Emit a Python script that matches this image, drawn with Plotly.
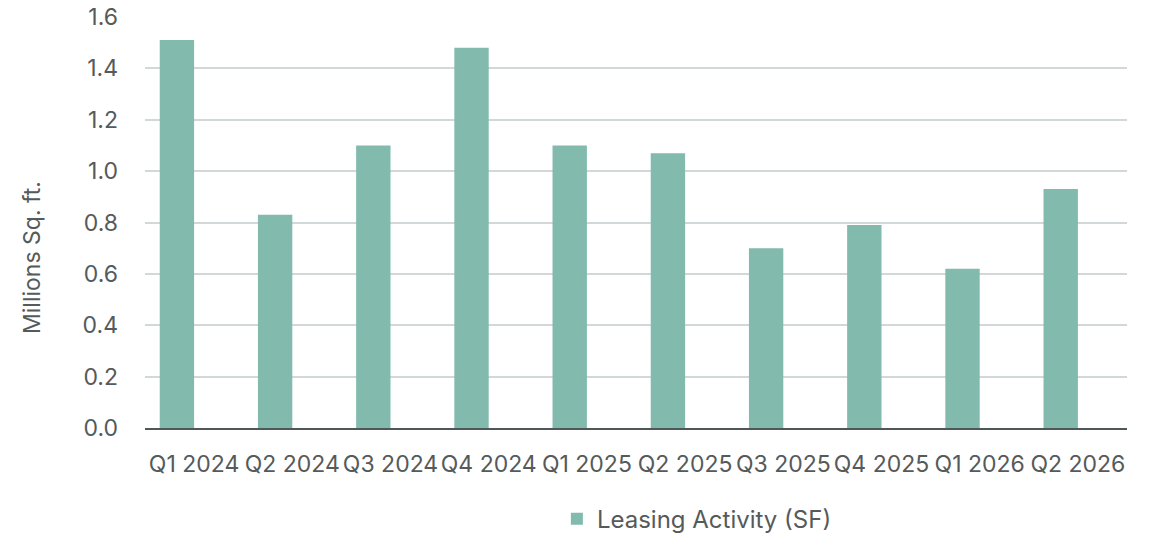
import plotly.graph_objects as go

categories = ["Q1 2024", "Q2 2024", "Q3 2024", "Q4 2024", "Q1 2025",
              "Q2 2025", "Q3 2025", "Q4 2025", "Q1 2026", "Q2 2026"]
leasing = [1.51, 0.83, 1.10, 1.48, 1.10, 1.07, 0.70, 0.79, 0.62, 0.93]
y_ticks = [0.0, 0.2, 0.4, 0.6, 0.8, 1.0, 1.2, 1.4, 1.6]
y_tick_text = ["0.0", "0.2", "0.4", "0.6", "0.8", "1.0", "1.2", "1.4", "1.6"]

FONT = "Inter, Open Sans, sans-serif"
TXT = "#555a5a"
FS = 23

fig = go.Figure()
fig.add_trace(go.Bar(
    x=categories, y=leasing, name="Leasing Activity (SF)",
    width=0.35, offset=-0.35,
    marker=dict(color="#82BAAD", line=dict(width=0)),
))

fig.update_layout(
    width=1150, height=534,
    margin=dict(l=145, r=23, t=17, b=106, autoexpand=False),
    paper_bgcolor="white", plot_bgcolor="white",
    font=dict(family=FONT, color=TXT, size=FS),
    showlegend=True,
    legend=dict(orientation="h", x=0.562, xanchor="center",
                yref="container", y=0.028, yanchor="middle",
                font=dict(size=24, color=TXT, family=FONT)),
    xaxis=dict(
        showline=True, linecolor="#4f5858", linewidth=2,
        ticks="", tickfont=dict(size=FS, color=TXT, family=FONT),
        ticklabelstandoff=14, automargin=False,
    ),
    yaxis=dict(
        range=[0, 1.6], tickvals=y_ticks, ticktext=y_tick_text,
        showgrid=True, gridcolor="#d2d8d9", gridwidth=2,
        zeroline=False, showline=False, ticks="",
        tickfont=dict(size=FS, color=TXT, family=FONT),
        ticklabelstandoff=26, automargin=False,
    ),
    annotations=[dict(
        text="Millions Sq. ft.", textangle=-90,
        xref="paper", yref="paper", x=-113 / 982, xanchor="center",
        y=(428 - 258) / 411, yanchor="middle", showarrow=False,
        font=dict(size=FS, color=TXT, family=FONT),
    )],
)

fig.write_html("out.html")
